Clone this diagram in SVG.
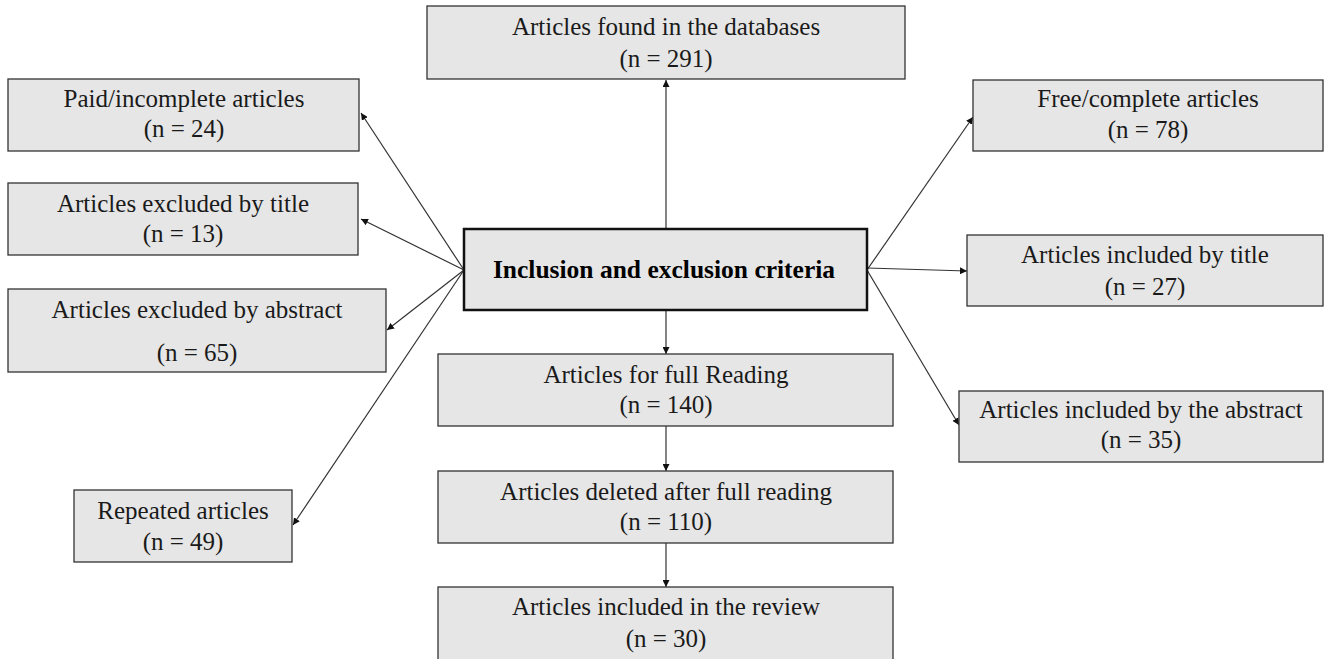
<svg xmlns="http://www.w3.org/2000/svg" width="1325" height="659" viewBox="0 0 1325 659">
<style>
.box{fill:#e6e6e6;stroke:#333;stroke-width:1.3}
.main{fill:#e6e6e6;stroke:#111;stroke-width:2.5}
text{font-family:"Liberation Serif","Times New Roman",serif;font-size:25px;fill:#1a1a1a;text-anchor:middle}
.b{font-weight:bold;font-size:25.5px;fill:#000}
.c{stroke:#333;stroke-width:1.2;fill:none;marker-end:url(#ah)}
</style>
<defs>
<marker id="ah" viewBox="0 0 10 10" refX="10" refY="5" markerWidth="7" markerHeight="7" markerUnits="userSpaceOnUse" orient="auto">
<path d="M0,0L10,5L0,10z" fill="#111"/>
</marker>
</defs>
<rect width="1325" height="659" fill="#fff"/>
<g id="connectors">
<line class="c" x1="666" y1="229" x2="666" y2="80"/>
<line class="c" x1="666" y1="310" x2="666" y2="354"/>
<line class="c" x1="666" y1="426" x2="666" y2="471"/>
<line class="c" x1="666" y1="543" x2="666" y2="587"/>
<line class="c" x1="464" y1="270" x2="361" y2="113"/>
<line class="c" x1="464" y1="270" x2="361" y2="219"/>
<line class="c" x1="464" y1="270" x2="387" y2="330"/>
<line class="c" x1="464" y1="270" x2="293" y2="525"/>
<line class="c" x1="867" y1="270" x2="973" y2="117"/>
<line class="c" x1="867" y1="268" x2="967" y2="271"/>
<line class="c" x1="867" y1="270" x2="959" y2="425"/>
</g>
<g id="n_found">
<rect class="box" x="427" y="6" width="478" height="73"/>
<text x="666" y="35">Articles found in the databases</text>
<text x="666" y="67">(n = 291)</text>
</g>
<g id="n_criteria">
<rect class="main" x="464" y="229" width="403" height="81"/>
<text class="b" x="664" y="278">Inclusion and exclusion criteria</text>
</g>
<g id="n_paid">
<rect class="box" x="8" y="79" width="351" height="72"/>
<text x="184" y="107">Paid/incomplete articles</text>
<text x="184" y="137">(n = 24)</text>
</g>
<g id="n_excl_title">
<rect class="box" x="8" y="183" width="350" height="72"/>
<text x="183" y="212">Articles excluded by title</text>
<text x="183" y="242">(n = 13)</text>
</g>
<g id="n_excl_abstract">
<rect class="box" x="8" y="289" width="378" height="83"/>
<text x="197" y="318">Articles excluded by abstract</text>
<text x="197" y="361">(n = 65)</text>
</g>
<g id="n_repeated">
<rect class="box" x="74" y="490" width="218" height="72"/>
<text x="183" y="519">Repeated articles</text>
<text x="183" y="550">(n = 49)</text>
</g>
<g id="n_free">
<rect class="box" x="973" y="80" width="350" height="71"/>
<text x="1148" y="107">Free/complete articles</text>
<text x="1148" y="138">(n = 78)</text>
</g>
<g id="n_incl_title">
<rect class="box" x="967" y="235" width="356" height="71"/>
<text x="1145" y="263">Articles included by title</text>
<text x="1145" y="295">(n = 27)</text>
</g>
<g id="n_incl_abstract">
<rect class="box" x="959" y="391" width="364" height="71"/>
<text x="1141" y="418">Articles included by the abstract</text>
<text x="1141" y="448">(n = 35)</text>
</g>
<g id="n_full">
<rect class="box" x="438" y="354" width="455" height="72"/>
<text x="666" y="383">Articles for full Reading</text>
<text x="666" y="413">(n = 140)</text>
</g>
<g id="n_deleted">
<rect class="box" x="438" y="471" width="455" height="72"/>
<text x="666" y="500">Articles deleted after full reading</text>
<text x="666" y="530">(n = 110)</text>
</g>
<g id="n_review">
<rect class="box" x="438" y="587" width="455" height="74"/>
<text x="666" y="615">Articles included in the review</text>
<text x="666" y="647">(n = 30)</text>
</g>
</svg>
